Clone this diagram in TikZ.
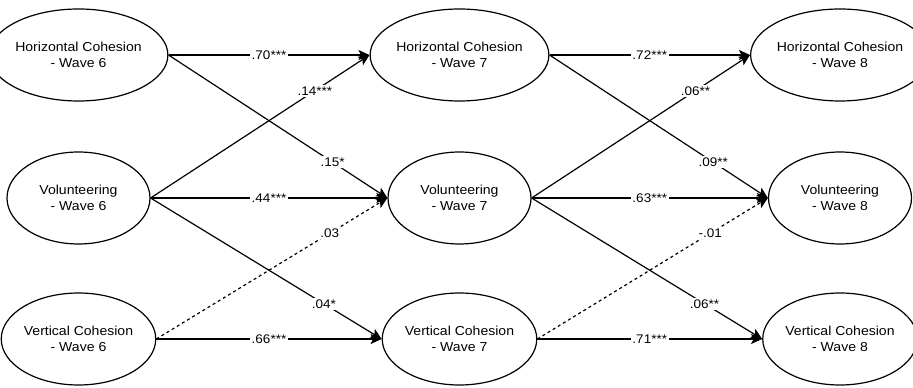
\documentclass[tikz,border=0pt]{standalone}
\usepackage{fontspec}
\setmainfont{Liberation Sans}[FakeStretch=1.08]
\usepackage{tikz}
\usetikzlibrary{arrows.meta,shapes.geometric}

\begin{document}
\begin{tikzpicture}[x=1pt, y=1pt,
	latente/.style={ellipse, draw, line width=1.2pt, minimum width=143pt, minimum height=92pt, inner sep=0pt, align=center, font=\fontsize{13}{16}\selectfont},
	camino/.style={line width=1.2pt, -{Stealth[length=11pt, width=10pt, inset=2.5pt]}},
	nosig/.style={camino, dash pattern=on 3pt off 3pt},
	coef/.style={fill=white, inner sep=1.5pt, font=\fontsize{12.5}{14}\selectfont}]

		\useasboundingbox (0,0) rectangle (913,388);

		% Nodos
		\node[latente] (horizontal_w6) at (78.5,333) {Horizontal Cohesion\\- Wave 6};
		\node[latente] (volunteering_w6) at (78.5,190) {Volunteering\\- Wave 6};
		\node[latente] (vertical_w6) at (78.5,49) {Vertical Cohesion\\- Wave 6};

		\node[latente] (horizontal_w7) at (459.5,333) {Horizontal Cohesion\\- Wave 7};
		\node[latente] (volunteering_w7) at (459.5,190) {Volunteering\\- Wave 7};
		\node[latente] (vertical_w7) at (459.5,49) {Vertical Cohesion\\- Wave 7};

		\node[latente] (horizontal_w8) at (840,333) {Horizontal Cohesion\\- Wave 8};
		\node[latente] (volunteering_w8) at (840,190) {Volunteering\\- Wave 8};
		\node[latente] (vertical_w8) at (840,49) {Vertical Cohesion\\- Wave 8};

		% Aristas: ola 6 a ola 7
		\draw[camino] (horizontal_w6.east) -- node[coef] {.70***} (horizontal_w7.west);
		\draw[camino] (horizontal_w6.east) -- node[coef, pos=0.75] {.15*} (volunteering_w7.west);
		\draw[camino] (volunteering_w6.east) -- node[coef, pos=0.75] {.14***} (horizontal_w7.west);
		\draw[camino] (volunteering_w6.east) -- node[coef] {.44***} (volunteering_w7.west);
		\draw[camino] (volunteering_w6.east) -- node[coef, pos=0.75] {.04*} (vertical_w7.west);
		\draw[nosig] (vertical_w6.east) -- node[coef, pos=0.75] {.03} (volunteering_w7.west);
		\draw[camino] (vertical_w6.east) -- node[coef] {.66***} (vertical_w7.west);

		% Aristas: ola 7 a ola 8
		\draw[camino] (horizontal_w7.east) -- node[coef] {.72***} (horizontal_w8.west);
		\draw[camino] (horizontal_w7.east) -- node[coef, pos=0.75] {.09**} (volunteering_w8.west);
		\draw[camino] (volunteering_w7.east) -- node[coef, pos=0.75] {.06**} (horizontal_w8.west);
		\draw[camino] (volunteering_w7.east) -- node[coef] {.63***} (volunteering_w8.west);
		\draw[camino] (volunteering_w7.east) -- node[coef, pos=0.75] {.06**} (vertical_w8.west);
		\draw[nosig] (vertical_w7.east) -- node[coef, pos=0.75] {-.01} (volunteering_w8.west);
		\draw[camino] (vertical_w7.east) -- node[coef] {.71***} (vertical_w8.west);

\end{tikzpicture}
\end{document}
